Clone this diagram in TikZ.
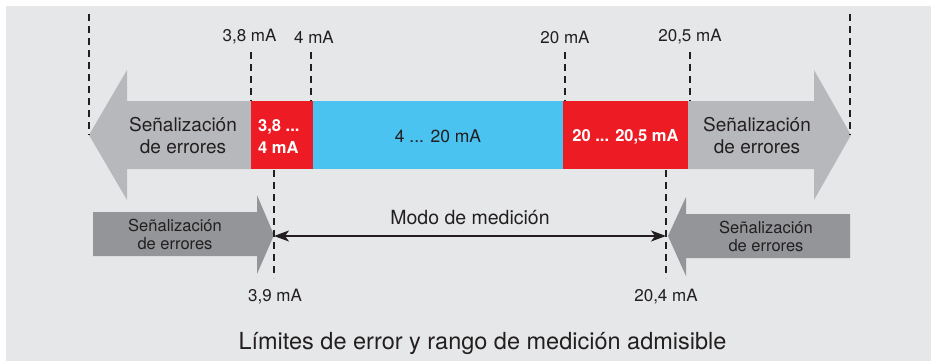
\documentclass[tikz,border=0pt]{standalone}
\usepackage{fontspec}
\setmainfont{TeX Gyre Heros}
\usetikzlibrary{arrows.meta}
\definecolor{bgc}{RGB}{230,231,232}
\definecolor{lgray}{RGB}{183,184,187}
\definecolor{dgray}{RGB}{147,149,152}
\definecolor{redc}{RGB}{237,28,36}
\definecolor{bluec}{RGB}{75,195,240}
\definecolor{txt}{RGB}{35,31,32}
\tikzset{
  dashln/.style={draw=txt,line width=1.3pt,dash pattern=on 7pt off 5pt},
  lbl/.style={inner sep=0pt,text=txt,font=\fontsize{17}{20}\selectfont},
  bigtxt/.style={inner sep=0pt,text=txt,align=center,font=\fontsize{19}{22}\selectfont},
  smalltxt/.style={inner sep=0pt,text=txt,align=center,font=\fontsize{16.5}{18}\selectfont},
  box/.style={anchor=north west,inner sep=0pt,minimum height=68pt},
  whitebold/.style={text=white,font=\bfseries\fontsize{16.5}{22}\selectfont}
}
\begin{document}
\begin{tikzpicture}[x=1pt,y=-1pt]
\useasboundingbox (0,0) rectangle (931,362);
\fill[bgc] (6,6) rectangle (931,361);
% big gray arrows
\fill[lgray] (251,101) -- (127,101) -- (127,70) -- (89,135) -- (127,200) -- (127,169) -- (251,169) -- cycle;
\fill[lgray] (688,101) -- (814,101) -- (814,70) -- (851,135) -- (814,200) -- (814,169) -- (688,169) -- cycle;
\coordinate (tipL) at (89,135);
\coordinate (tipR) at (850,135);
\coordinate (topL) at (89,14);
\coordinate (topR) at (850,14);
\draw[dashln] (topL) -- (tipL);
\draw[dashln] (topR) -- (tipR);
% boxes
\node[box,fill=redc,minimum width=62pt] (r1) at (251,101) {};
\node[box,fill=bluec,minimum width=250pt] (bl) at (313,101) {};
\node[box,fill=redc,minimum width=125pt] (r2) at (563,101) {};
\node[whitebold,inner sep=0pt,align=left,anchor=west] (r1t) at (258,137) {3,8 ...\\4 mA};
\node[whitebold,inner sep=0pt] (r2t) at (625.5,137) {20 ... 20,5 mA};
\node[lbl,font=\fontsize{17.5}{20}\selectfont] (blt) at (438,136) {4 ... 20 mA};
\node[bigtxt] (sl) at (183,136) {Señalización\\de errores};
\node[bigtxt] (sr) at (757,136) {Señalización\\de errores};
% top labels
\node[lbl] (l38) at (249.5,37) {3,8 mA};
\node[lbl] (l4) at (314,37) {4 mA};
\node[lbl] (l20) at (565,37) {20 mA};
\node[lbl] (l205) at (690,37) {20,5 mA};
\coordinate (d38a) at (251,52); \coordinate (d38b) at (251,101);
\coordinate (d4a) at (311,52); \coordinate (d4b) at (311,101);
\coordinate (d20a) at (565,52); \coordinate (d20b) at (565,101);
\coordinate (d205a) at (690,52); \coordinate (d205b) at (690,101);
\draw[dashln] (d38a) -- (d38b);
\draw[dashln] (d4a) -- (d4b);
\draw[dashln] (d20a) -- (d20b);
\draw[dashln] (d205a) -- (d205b);
% lower arrows
\fill[dgray] (93,212) -- (257,212) -- (257,195) -- (274,235) -- (257,274) -- (257,256) -- (93,256) -- cycle;
\fill[dgray] (850,214) -- (686,214) -- (686,197) -- (668,236) -- (686,276) -- (686,258) -- (850,258) -- cycle;
\node[smalltxt] (ll) at (175,234) {Señalización\\de errores};
\node[smalltxt] (lr) at (766,236) {Señalización\\de errores};
\coordinate (d39a) at (274,170); \coordinate (d39b) at (274,278);
\coordinate (d204a) at (666,170); \coordinate (d204b) at (666,278);
\draw[dashln] (d39a) -- (d39b);
\draw[dashln] (d204a) -- (d204b);
\coordinate (m1) at (274,236);
\coordinate (m2) at (666,236);
\draw[txt,line width=1.2pt,{Stealth[length=15pt,width=11pt,inset=4pt]}-{Stealth[length=15pt,width=11pt,inset=4pt]}] (m1) -- (m2);
\node[lbl,font=\fontsize{19.5}{22}\selectfont] (modo) at (470,218) {Modo de medición};
\node[lbl] (l39) at (275,297) {3,9 mA};
\node[lbl] (l204) at (666,297) {20,4 mA};
\node[lbl,font=\fontsize{23.5}{26}\selectfont] (title) at (482.5,343) {Límites de error y rango de medición admisible};
\end{tikzpicture}
\end{document}
